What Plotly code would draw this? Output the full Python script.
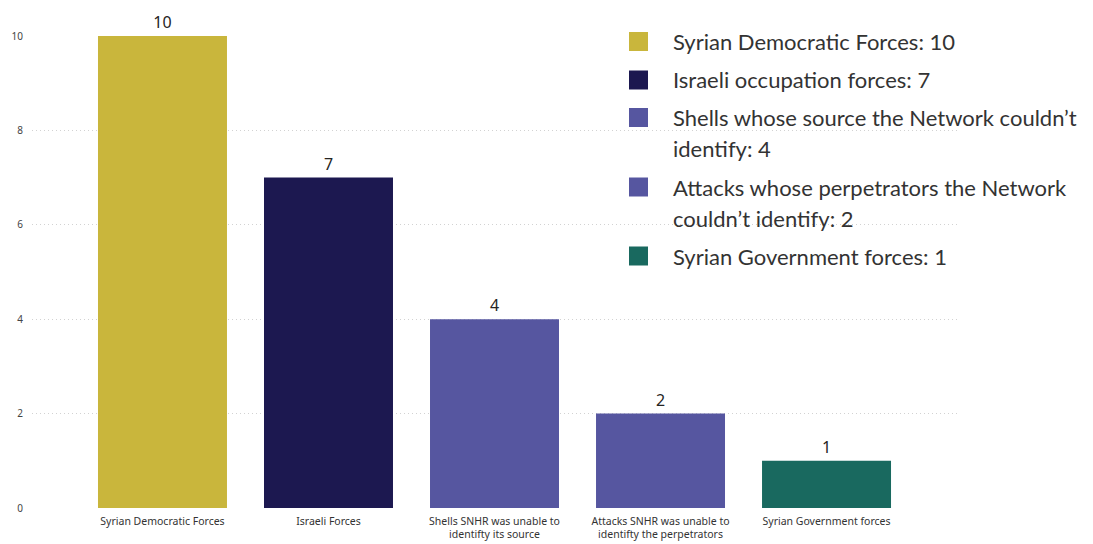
import plotly.graph_objects as go

categories = [
    "Syrian Democratic Forces",
    "Israeli Forces",
    "Shells SNHR was unable to<br>identifty its source",
    "Attacks SNHR was unable to<br>identifty the perpetrators",
    "Syrian Government forces",
]
values = [10, 7, 4, 2, 1]
colors = ["#C9B63C", "#1C1850", "#5656A0", "#5656A0", "#19695F"]
legend_names = [
    "Syrian Democratic Forces",
    "Israeli occupation forces",
    "Shells whose source the Network couldn’t<br>identify",
    "Attacks whose perpetrators the Network<br>couldn’t identify",
    "Syrian Government forces",
]

OFF = 8  # page body margin
W, H = 1093 - OFF, 544 - OFF
L, R, T, B = 32 - OFF, 960 - OFF, 36 - OFF, 508 - OFF

fig = go.Figure(
    go.Bar(
        x=list(range(len(categories))),
        y=values,
        marker=dict(color=colors, line=dict(width=0)),
        width=0.777,
        text=[str(v) for v in values],
        textposition="outside",
        textfont=dict(family="Noto Sans", size=16, color="#252423"),
        cliponaxis=False,
        showlegend=False,
    )
)

def px_x(px):
    return (px - OFF - L) / (R - L)

def px_y(py):
    return (B - (py - OFF)) / (B - T)

# legend drawn as shapes + annotations (reference pixel coordinates)
item_centers = [41.5, 80, 117.5, 187, 256]
line_gap = 31
for i, (name, val, col) in enumerate(zip(legend_names, values, colors)):
    cy = item_centers[i]
    fig.add_shape(
        type="rect", xref="paper", yref="paper",
        x0=px_x(629), x1=px_x(648), y0=px_y(cy + 9.5), y1=px_y(cy - 9.5),
        fillcolor=col, line=dict(width=0),
    )
    lines = (name + ": " + str(val)).split("<br>")
    for j, ln in enumerate(lines):
        fig.add_annotation(
            xref="paper", yref="paper", x=px_x(671), y=px_y(cy + j * line_gap),
            text=ln, showarrow=False, xanchor="left", yanchor="middle",
            font=dict(family="Lato", size=22, color="#333333"),
        )

fig.update_layout(
    width=W, height=H,
    margin=dict(l=L, r=W - R, t=T, b=H - B, pad=0, autoexpand=False),
    plot_bgcolor="white", paper_bgcolor="white",
    bargap=0.2,
)
fig.update_xaxes(
    range=[-0.786, 4.804],
    tickmode="array",
    tickvals=list(range(len(categories))),
    ticktext=categories,
    tickfont=dict(family="Noto Sans", size=10.5, color="#333333"),
    showgrid=False, zeroline=False, showline=False, ticks="",
    ticklabelstandoff=5, automargin=False,
)
fig.update_yaxes(
    range=[0, 10],
    tickvals=[0, 2, 4, 6, 8, 10],
    tickfont=dict(family="Noto Sans", size=10, color="#444444"),
    showgrid=True, gridcolor="#D2D2D2", griddash="1px,3px", gridwidth=1,
    zeroline=False, showline=False, ticks="",
    ticklabelstandoff=8, automargin=False,
)

fig.write_html("out.html")
